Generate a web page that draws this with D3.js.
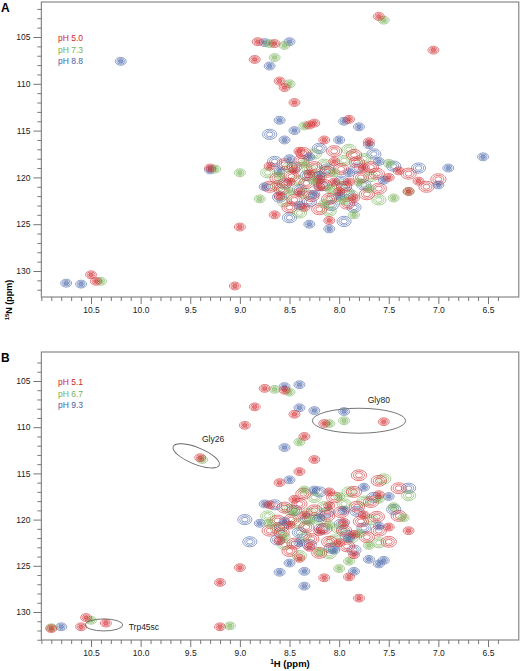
<!DOCTYPE html>
<html><head><meta charset="utf-8">
<script src="https://cdn.jsdelivr.net/npm/d3@7"></script>
<style>body{margin:0;background:#fff}text{font-family:"Liberation Sans",Arial,sans-serif}</style>
</head><body><div id="chart"></div>
<script>
const colors = { red: "#d3262c", green: "#74b054", blue: "#4463a8" }

// panel A peaks [1H ppm, 15N ppm]
const peaksA_red = [[8.82,105.5],[8.65,105.7],[8.85,107.4],[8.6,109.7],[7.6,102.8],[7.05,106.4],[8.45,112],[8.3,114.4],[8.4,117.2],[9.3,119],[8.15,116],[8.05,118.3],[8.3,119.6],[8.5,120.5],[8.2,121],[8.6,122],[8.0,121.5],[7.9,120.5],[7.5,120],[7.3,121.5],[8.1,124.6],[8.35,123.2],[9.0,125.3],[9.05,131.6],[10.5,130.4],[10.45,131.1],[7.75,119],[8.7,118.8],[8.25,114.2],[7.9,113.8],[7.7,116.2],[8.55,110.4],[8.45,119.2],[8.2,120.2],[7.85,122.2],[8.05,120.5],[8.4,121.6],[7.4,119.3],[7.2,120.4],[8.65,124]]
const coreA_red = [[8.55,118.6],[8.38,118.2],[8.25,118.9],[8.12,119.4],[7.98,119.1],[7.82,118.4],[7.68,118.9],[8.48,119.9],[8.33,120.6],[8.15,120.8],[7.95,121.0],[7.78,120.0],[7.62,119.6],[8.58,121.3],[8.45,122.4],[8.28,122.0],[8.1,122.3],[7.92,122.8],[7.72,121.8],[8.62,120.1],[8.36,117.4],[8.05,117.2],[7.85,117.6],[7.3,119.6],[7.12,121.0],[7.0,120.2],[8.2,123.4],[8.5,123.2],[7.6,121.2],[8.7,121.0]]
const peaksA_green = [[8.7,105.7],[8.55,105.9],[8.65,107.2],[8.5,110],[8.35,114.5],[9.25,119.1],[8.35,118.5],[8.05,119.5],[7.8,120.5],[8.5,121.5],[7.85,124],[7.95,122.5],[8.1,121.2],[9.0,119.5],[10.4,131.1],[7.55,103.2],[7.3,121.5],[8.8,122.3],[7.5,118.5],[8.25,120.4],[8.6,119.8],[8.15,122.8],[7.7,121.2],[7.45,122.2]]
const coreA_green = [[8.5,118.9],[8.3,119.2],[8.15,118.6],[7.95,118.2],[7.75,118.0],[8.42,120.3],[8.2,119.9],[8.0,120.9],[7.88,121.9],[8.55,122.6],[8.35,121.7],[8.05,122.1],[7.68,119.9],[8.62,120.9],[8.25,117.5],[7.9,117.0],[8.1,123.6],[8.4,123.8],[7.6,122.4],[8.72,119.5]]
const peaksA_blue = [[8.75,105.6],[8.5,105.5],[8.7,108.1],[8.6,113.9],[8.45,115],[7.95,114],[7.7,116.5],[9.3,119.2],[8.5,118],[8.2,119.8],[7.9,119.5],[8.0,122],[8.4,123],[8.1,125.5],[8.3,125],[6.9,119],[6.55,117.8],[7.0,120.8],[10.75,131.3],[10.6,131.4],[10.2,107.6],[8.75,121],[8.0,116],[8.3,117.8],[7.6,118.3],[8.6,119.3],[8.25,121.8],[7.55,120.3],[8.55,116],[7.8,114.6]]
const coreA_blue = [[8.45,118.9],[8.32,119.8],[8.12,119.1],[7.98,120.4],[7.82,119.0],[8.55,120.7],[8.4,121.3],[8.18,120.9],[7.92,121.6],[7.75,120.8],[8.6,122.1],[8.3,122.6],[8.08,123.0],[7.85,123.2],[8.65,118.3],[7.65,117.5],[8.2,116.9],[7.45,118.8],[8.5,124.3],[7.95,124.7],[8.7,115.4],[7.2,119.0]]

// panel B peaks
const peaksB_red = [[8.75,105.8],[8.55,106],[8.85,107.8],[8.95,109.8],[8.45,108.6],[8.35,111],[8.15,109.6],[7.55,109.4],[9.4,113.3],[8.4,114.8],[8.25,113.5],[8.6,116],[8.7,118.4],[8.35,119.5],[8.5,120.6],[8.2,121.3],[7.95,120.3],[8.1,118.5],[7.75,119.5],[7.5,120.8],[7.3,121.2],[8.6,122.3],[8.3,123],[8.0,122.5],[8.4,124.2],[7.85,123.8],[9.0,125.2],[9.2,126.8],[8.15,126.3],[7.9,126.2],[7.8,128.5],[9.2,131.6],[10.55,130.6],[10.6,131.6],[10.35,131.2],[10.9,131.8],[8.1,117],[7.6,117.3],[8.45,117.8],[7.85,121.6]]
const coreB_red = [[8.55,118.7],[8.4,118.3],[8.25,119.0],[8.12,119.6],[7.98,119.2],[7.82,118.6],[7.68,118.1],[8.48,120.0],[8.33,120.8],[8.15,121.0],[7.95,121.2],[7.78,120.2],[7.62,119.7],[8.58,121.4],[8.45,122.6],[8.28,122.1],[8.1,122.4],[7.92,122.9],[7.72,121.9],[8.62,120.1],[8.36,117.2],[8.05,117.6],[7.85,117.0],[7.4,119.6],[7.5,122.4],[8.2,123.6],[8.5,123.4],[7.6,121.2],[8.7,121.2],[7.4,116.6],[7.6,115.8],[7.8,115.2]]
const peaksB_green = [[8.65,105.9],[8.5,106.2],[8.4,111.6],[9.38,113.5],[8.1,109.6],[8.35,116.8],[8.0,117.5],[7.6,117.8],[8.45,119.2],[8.1,120.6],[7.8,121.5],[8.55,121.8],[8.2,123.5],[7.9,124.5],[7.7,122.8],[9.1,131.5],[10.5,130.9],[10.9,131.7],[8.3,120.2],[7.45,118.6],[7.35,119.8],[8.7,120.4],[8.0,125.3],[7.95,109.3]]
const coreB_green = [[8.5,118.9],[8.3,119.3],[8.15,118.6],[7.95,118.3],[7.75,118.0],[8.42,120.4],[8.2,120.0],[8.0,121.0],[7.88,122.0],[8.55,122.7],[8.35,121.8],[8.05,122.2],[7.68,120.0],[8.62,121.0],[8.25,117.6],[7.9,117.0],[8.1,123.7],[8.4,123.9],[7.6,122.5],[8.72,119.6],[7.55,115.6],[7.3,117.4]]
const peaksB_blue = [[8.55,105.6],[8.4,105.4],[8.4,107.9],[8.25,108.2],[8.55,112.2],[7.95,108.3],[8.5,115.7],[8.25,116.8],[7.75,116.5],[7.5,117.5],[8.8,120.4],[8.55,120.2],[8.2,119.8],[7.95,119],[7.6,120.7],[8.4,122.5],[8.05,123.3],[7.7,124.3],[8.5,124.7],[8.35,125.6],[7.55,124.4],[7.6,124.8],[8.35,127.2],[10.8,131.6],[7.9,122],[8.75,118.3],[7.85,125.6],[8.6,125.7]]
const coreB_blue = [[8.45,119.0],[8.32,119.9],[8.12,119.2],[7.98,120.5],[7.82,119.1],[8.58,120.8],[8.4,121.4],[8.18,121.0],[7.92,121.7],[7.75,120.9],[8.62,122.2],[8.3,122.7],[8.08,123.1],[7.85,123.3],[8.65,118.4],[7.65,117.6],[8.2,117.0],[7.45,118.9],[8.95,120.0],[8.9,122.4],[7.3,116.6]]

const legendA = ["pH 5.0", "pH 7.3", "pH 8.8"]
const legendB = ["pH 5.1", "pH 6.7", "pH 9.3"]
// annotation ellipses: [label, H, N, rx ppm, ry ppm, angle]
const notes = [["Gly26", 9.44, 113.1, 0.25, 0.9, 22], ["Gly80", 7.8, 109.3, 0.47, 1.35, 0], ["Trp45sc", 10.37, 131.4, 0.19, 0.65, 0]]
const notePos = { Gly26: [9.27, 111.6, "middle"], Gly80: [7.6, 107.4, "middle"], Trp45sc: [10.12, 131.9, "start"] }
const xTicks = [10.5, 10.0, 9.5, 9.0, 8.5, 8.0, 7.5, 7.0, 6.5]
const yTicks = [105, 110, 115, 120, 125, 130]

const width = 520, height = 671
const svg = d3.select("#chart").append("svg").attr("width", width).attr("height", height)

const x = d3.scaleLinear().domain([10.5, 6.5]).range([91, 488])
const xFull = [11.0, 6.19]

function panel(top, bottom, y105, y130, sets, legend, letter, showNotes) {
  const y = d3.scaleLinear().domain([105, 130]).range([y105, y130])
  const g = svg.append("g")
  g.append("rect").attr("x", x(xFull[0])).attr("y", top)
    .attr("width", x(xFull[1]) - x(xFull[0])).attr("height", bottom - top)
    .attr("fill", "none").attr("stroke", "#888").attr("stroke-width", 1.2)

  const yAx = g.append("g").attr("transform", `translate(${x(xFull[0])},0)`)
    .call(d3.axisLeft(y).tickValues(d3.range(Math.ceil(y.invert(top + 3)), Math.floor(y.invert(bottom)) + 1))
      .tickSize(4).tickFormat(d => yTicks.includes(d) ? d : ""))
  yAx.selectAll(".tick line").attr("x2", d => yTicks.includes(d) ? -8 : -4).attr("stroke", "#777")
  yAx.select(".domain").remove()
  yAx.selectAll("text").attr("x", -11).attr("font-size", 8.5).attr("fill", "#222")

  const xAx = g.append("g").attr("transform", `translate(0,${bottom})`)
    .call(d3.axisBottom(x).tickValues(d3.range(64, 111).map(d => d / 10))
      .tickSize(4).tickFormat(d => xTicks.includes(d) ? d.toFixed(1) : ""))
  xAx.selectAll(".tick line").attr("y2", d => xTicks.includes(d) ? 7 : 4).attr("stroke", "#777")
  xAx.select(".domain").remove()
  xAx.selectAll("text").attr("y", 10).attr("font-size", 8.5).attr("fill", "#222")

  const clip = "clip" + letter
  svg.append("clipPath").attr("id", clip).append("rect")
    .attr("x", x(xFull[0])).attr("y", top).attr("width", x(xFull[1]) - x(xFull[0])).attr("height", bottom - top)
  const pk = g.append("g").attr("clip-path", `url(#${clip})`)
  const ppmX = Math.abs(x(0) - x(1)), ppmY = Math.abs(y(1) - y(0))
  sets.forEach(([pts, c, size]) => {
    pts.forEach(d => {
      ;[1, 0.72, 0.45].forEach((s, k) => {
        pk.append("ellipse")
          .attr("cx", x(d[0])).attr("cy", y(d[1]))
          .attr("rx", 0.055 * ppmX * s * size).attr("ry", 0.42 * ppmY * s * size)
          .attr("fill", k === 2 && size === 1 ? c : "none").attr("fill-opacity", 0.6)
          .attr("stroke", c).attr("stroke-width", 0.8).attr("stroke-opacity", 0.75)
      })
    })
  })

  legend.forEach((t, i) => {
    g.append("text").attr("x", 58).attr("y", y105 + 4 + i * 11.5)
      .attr("font-size", 8.5).attr("fill", [colors.red, colors.green, colors.blue][i]).text(t)
  })
  svg.append("text").attr("x", 1).attr("y", top + 10).attr("font-size", 12).attr("font-weight", "bold").text(letter)

  if (showNotes) {
    notes.forEach(([lab, h, n, rx, ry, ang]) => {
      pk.append("ellipse").attr("cx", x(h)).attr("cy", y(n))
        .attr("rx", rx * ppmX).attr("ry", ry * ppmY)
        .attr("transform", `rotate(${ang},${x(h)},${y(n)})`)
        .attr("fill", "none").attr("stroke", "#666").attr("stroke-width", 0.9)
      const [lh, ln, a] = notePos[lab]
      g.append("text").attr("x", x(lh)).attr("y", y(ln)).attr("text-anchor", a)
        .attr("font-size", 8.5).attr("fill", "#222").text(lab)
    })
  }
}

panel(2, 297, 37, 271,
  [[coreA_blue, colors.blue, 1.3], [coreA_green, colors.green, 1.3], [coreA_red, colors.red, 1.4],
   [peaksA_blue, colors.blue, 1], [peaksA_green, colors.green, 1], [peaksA_red, colors.red, 1]], legendA, "A", false)
panel(352, 640, 381, 612,
  [[coreB_blue, colors.blue, 1.3], [coreB_green, colors.green, 1.3], [coreB_red, colors.red, 1.4],
   [peaksB_blue, colors.blue, 1], [peaksB_green, colors.green, 1], [peaksB_red, colors.red, 1]], legendB, "B", true)

svg.append("text").attr("transform", "translate(12,300) rotate(-90)").attr("text-anchor", "middle")
  .attr("font-size", 9).attr("font-weight", "bold").html('<tspan font-size="6" dy="-3">15</tspan><tspan dy="3">N (ppm)</tspan>')
svg.append("text").attr("x", 290).attr("y", 667).attr("text-anchor", "middle")
  .attr("font-size", 9.5).attr("font-weight", "bold").html('<tspan font-size="6.5" dy="-3">1</tspan><tspan dy="3">H (ppm)</tspan>')
</script></body></html>
